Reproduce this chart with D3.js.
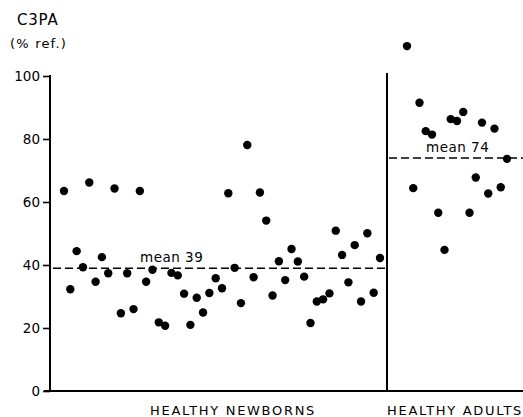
<!DOCTYPE html>
<html>
<head>
<meta charset="utf-8">
<script src="https://cdn.jsdelivr.net/npm/d3@7"></script>
<style>
  html, body { margin: 0; padding: 0; background: #fff; }
  text { font-family: "DejaVu Sans", sans-serif; fill: #000; }
</style>
</head>
<body>
<svg id="chart" width="523" height="417"></svg>
<script>
// C3PA values (% ref.), in plotting order
var newborns = [63.5, 32.3, 44.4, 39.3, 66.2, 34.7, 42.5, 37.4, 64.3, 24.7,
    37.4, 26.0, 63.5, 34.7, 38.5, 21.8, 20.7, 37.5, 36.7, 30.9,
    21.0, 29.6, 24.9, 31.1, 35.8, 32.6, 62.8, 39.1, 27.9, 78.1,
    36.1, 63.0, 54.1, 30.3, 41.2, 35.2, 45.1, 41.1, 36.3, 21.6,
    28.4, 29.1, 31.0, 50.9, 43.2, 34.5, 46.3, 28.4, 50.1, 31.2, 42.2];
var adults = [109.5, 64.4, 91.5, 82.5, 81.4, 56.6, 44.8, 86.3, 85.7, 88.6,
    56.6, 67.8, 85.2, 62.7, 83.3, 64.7, 73.7];
var groups = ["HEALTHY NEWBORNS", "HEALTHY ADULTS"];
var means = [39, 74];
var yTicks = [0, 20, 40, 60, 80, 100];

var svg = d3.select("#chart");

var y = d3.scaleLinear().domain([0, 100]).range([391, 76]);

//x positions per group
var xNew = d3.scalePoint().domain(d3.range(newborns.length)).range([64, 380]);
var xAd = d3.scalePoint().domain(d3.range(adults.length)).range([407, 507]);

//axis title
svg.append("text").attr("x", 17).attr("y", 25)
    .style("font-size", "15px").style("letter-spacing", "0.8px").text("C3PA");
svg.append("text").attr("x", 10).attr("y", 48)
    .style("font-size", "13px").style("letter-spacing", "1.2px").text("(% ref.)");

//y axis
var yAxis = d3.axisLeft(y).tickValues(yTicks).tickSize(7).tickPadding(3).tickFormat(d3.format("d"));
var gy = svg.append("g").attr("transform", "translate(50,0)").call(yAxis);
gy.select(".domain").remove();
gy.selectAll(".tick line").attr("stroke", "#000").attr("stroke-width", 1.6);
gy.selectAll(".tick text").style("font-size", "13.5px").style("font-family", "DejaVu Sans");
svg.append("line").attr("x1", 50).attr("x2", 50).attr("y1", y(100) - 1).attr("y2", y(0))
    .attr("stroke", "#000").attr("stroke-width", 2);

//x axis
svg.append("line").attr("x1", 44).attr("x2", 523).attr("y1", y(0)).attr("y2", y(0))
    .attr("stroke", "#000").attr("stroke-width", 2);

//divider
svg.append("line").attr("x1", 387).attr("x2", 387).attr("y1", 73).attr("y2", y(0))
    .attr("stroke", "#000").attr("stroke-width", 2);

//group labels
svg.append("text").attr("x", 150).attr("y", 415)
    .style("font-size", "13px").style("letter-spacing", "1.7px").text(groups[0]);
svg.append("text").attr("x", 387).attr("y", 415)
    .style("font-size", "13px").style("letter-spacing", "1.7px").text(groups[1]);

//mean lines
var meanSpans = [[53, 385], [389, 523]];
svg.selectAll(".mean").data(means).enter().append("line")
    .attr("class", "mean")
    .attr("x1", function(d, i) { return meanSpans[i][0]; })
    .attr("x2", function(d, i) { return meanSpans[i][1]; })
    .attr("y1", function(d) { return y(d); })
    .attr("y2", function(d) { return y(d); })
    .attr("stroke", "#000").attr("stroke-width", 1.5).attr("stroke-dasharray", "8,4");

var meanLabelX = [140, 426];
svg.selectAll(".meanLabel").data(means).enter().append("text")
    .attr("x", function(d, i) { return meanLabelX[i]; })
    .attr("y", function(d) { return y(d) - 6; })
    .style("font-size", "13.5px").style("letter-spacing", "0.5px")
    .text(function(d) { return "mean " + d; });

//points
svg.selectAll(".nb").data(newborns).enter().append("circle")
    .attr("cx", function(d, i) { return xNew(i); })
    .attr("cy", function(d) { return y(d); })
    .attr("r", 4.2).attr("fill", "#000");

svg.selectAll(".ad").data(adults).enter().append("circle")
    .attr("cx", function(d, i) { return xAd(i); })
    .attr("cy", function(d) { return y(d); })
    .attr("r", 4.2).attr("fill", "#000");
</script>
</body>
</html>
